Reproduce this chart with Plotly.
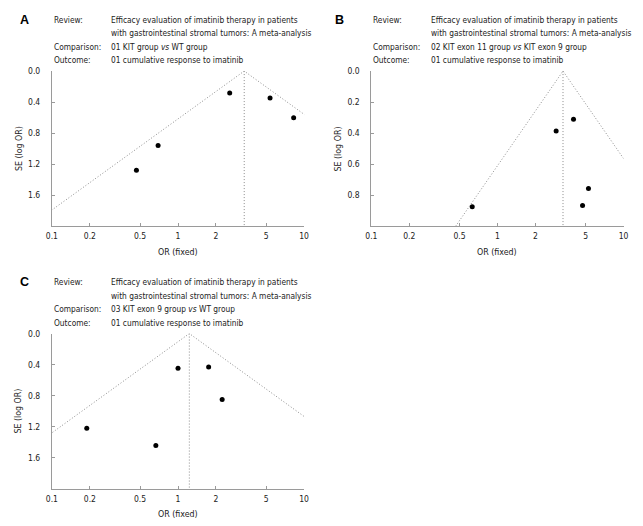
import math
import plotly.graph_objects as go

W, H = 643, 526

# ---------------- data ----------------
panel_labels = ["A", "B", "C"]
review_line1 = "Efficacy evaluation of imatinib therapy in patients"
review_line2 = "with gastrointestinal stromal tumors: A meta-analysis"
comparisons = [
    "01 KIT group <i>vs</i> WT group",
    "02 KIT exon 11 group <i>vs</i> KIT exon 9 group",
    "03 KIT exon 9 group <i>vs</i> WT group",
]
outcome = "01 cumulative response to imatinib"

or_A = [0.468, 0.695, 2.57, 5.37, 8.26]
se_A = [1.278, 0.959, 0.284, 0.348, 0.603]
pooled_A = 3.35

or_B = [0.631, 2.92, 4.01, 5.27, 4.73]
se_B = [0.874, 0.387, 0.311, 0.757, 0.866]
pooled_B = 3.31

or_C = [0.189, 0.667, 1.0, 1.75, 2.24]
se_C = [1.221, 1.443, 0.447, 0.430, 0.851]
pooled_C = 1.23

x_tickvals = [0.1, 0.2, 0.5, 1, 2, 5, 10]
x_ticktext = ["0.1", "0.2", "0.5", "1", "2", "5", "10"]
y_ticks_A = [0.0, 0.4, 0.8, 1.2, 1.6]
y_ticks_B = [0.0, 0.2, 0.4, 0.6, 0.8]
y_ticks_C = [0.0, 0.4, 0.8, 1.2, 1.6]
y_max = [2.0, 1.0, 2.0]

# ---------------- layout geometry (pixels) ----------------
boxes = [  # x0, x1, y_top, y_bottom
    (46.7, 303.3, 66.7, 223.3),
    (371.7, 628.3, 66.7, 223.3),
    (46.7, 303.3, 331.7, 488.3),
]
header_x = [(12, 47, 105), (333, 371, 430), (12, 47, 105)]
header_y0 = [15, 15, 280]

FONT = "DejaVu Sans Condensed, DejaVu Sans, sans-serif"
TXT = "#222222"
AX = "#9a9a9a"


def px(x):
    return x / W


def py(y):
    return 1 - y / H


fig = go.Figure()
series = [(or_A, se_A, pooled_A), (or_B, se_B, pooled_B), (or_C, se_C, pooled_C)]
yticks = [y_ticks_A, y_ticks_B, y_ticks_C]

for i, (ors, ses, pooled) in enumerate(series):
    n = "" if i == 0 else str(i + 1)
    xa, ya = "x" + n, "y" + n
    smax = y_max[i]
    # funnel (pseudo 95% limits around the pooled estimate)
    fig.add_trace(go.Scatter(
        x=[pooled * math.exp(-1.96 * smax), pooled, pooled * math.exp(1.96 * smax)],
        y=[smax, 0, smax], mode="lines", xaxis=xa, yaxis=ya,
        line=dict(color="#8c8c8c", width=1, dash="1px,2px"), hoverinfo="skip"))
    fig.add_trace(go.Scatter(
        x=[pooled, pooled], y=[0, smax], mode="lines", xaxis=xa, yaxis=ya,
        line=dict(color="#8c8c8c", width=1, dash="1px,2px"), hoverinfo="skip"))
    fig.add_trace(go.Scatter(
        x=ors, y=ses, mode="markers", xaxis=xa, yaxis=ya,
        marker=dict(color="black", size=5)))

    x0, x1, yt, yb = boxes[i]
    common = dict(showline=True, linecolor=AX, linewidth=1, showgrid=False, zeroline=False,
                  ticks="inside", ticklen=3, tickcolor=AX,
                  tickfont=dict(family=FONT, size=8.5, color=TXT))
    fig.layout["xaxis" + n] = dict(
        type="log", range=[-1, 1], tickvals=x_tickvals, ticktext=x_ticktext,
        domain=[px(x0), px(x1)], anchor=ya, ticklabelstandoff=2, **common)
    fig.layout["yaxis" + n] = dict(
        range=[smax, 0], tickvals=yticks[i], ticktext=[f"{v:.1f}" for v in yticks[i]],
        domain=[py(yb), py(yt)], anchor=xa, ticklabelstandoff=9, **common)

    # axis titles
    fig.add_annotation(x=px((x0 + x1) / 2), y=py(yb + 26), xref="paper", yref="paper",
                       text="OR (fixed)", showarrow=False, xanchor="center", yanchor="middle",
                       font=dict(family=FONT, size=8.8, color=TXT))
    fig.add_annotation(x=px(x0 - 34), y=py((yt + yb) / 2), xref="paper", yref="paper",
                       text="SE (log OR)", showarrow=False, textangle=-90,
                       xanchor="center", yanchor="middle",
                       font=dict(family=FONT, size=8.8, color=TXT))

    # header block
    lx, kx, vx = header_x[i]
    y0 = header_y0[i]
    fig.add_annotation(x=px(lx), y=py(y0), xref="paper", yref="paper", text="<b>" + panel_labels[i] + "</b>",
                       showarrow=False, xanchor="left", yanchor="middle",
                       font=dict(family="Liberation Sans, Arial, sans-serif", size=12.5, color="black"))
    rows = [("Review:", review_line1), ("", review_line2), ("Comparison:", comparisons[i]), ("Outcome:", outcome)]
    for r, (k, v) in enumerate(rows):
        yy = y0 + r * 13.6
        if k:
            fig.add_annotation(x=px(kx), y=py(yy), xref="paper", yref="paper", text=k,
                               showarrow=False, xanchor="left", yanchor="middle",
                               font=dict(family=FONT, size=8.3, color=TXT))
        fig.add_annotation(x=px(vx), y=py(yy), xref="paper", yref="paper", text=v,
                           showarrow=False, xanchor="left", yanchor="middle",
                           font=dict(family=FONT, size=8.3, color=TXT))

fig.update_layout(width=W, height=H, margin=dict(l=0, r=0, t=0, b=0),
                  paper_bgcolor="white", plot_bgcolor="white", showlegend=False)
fig.write_html("out.html", config={"displayModeBar": False},
               post_script="document.body.style.margin='0';document.body.style.overflow='hidden';")
